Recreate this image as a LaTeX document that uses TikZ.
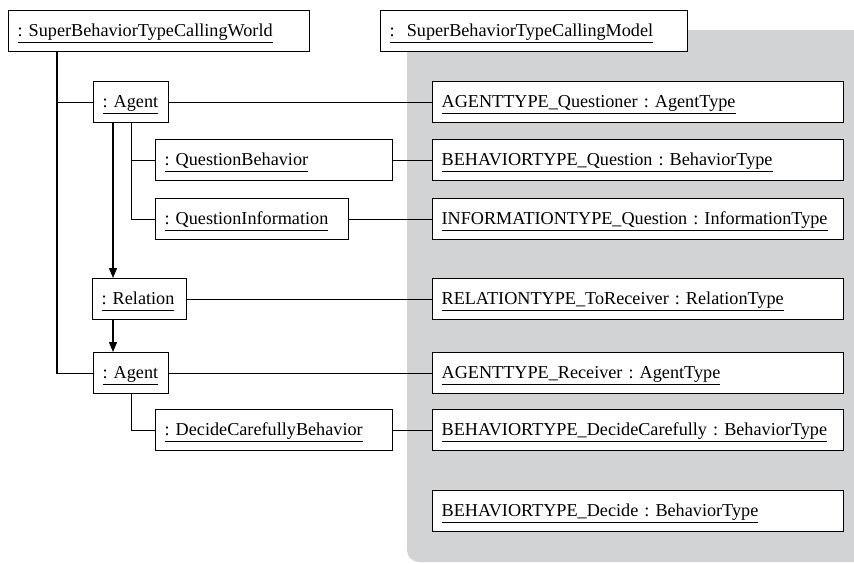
\documentclass[tikz,border=0pt]{standalone}
\usepackage{fontspec}
\setmainfont{Liberation Serif}
\usetikzlibrary{arrows.meta,positioning,calc}
\definecolor{modelgray}{HTML}{D2D3D5}
\newcommand{\objname}[1]{\underline{#1\vphantom{gy}}}
\frenchspacing

\begin{document}
\begin{tikzpicture}[x=0.5pt,y=-0.5pt,
    obj/.style={draw,fill=white,line width=0.6pt,anchor=north west,align=left,
      text width=#1,inner xsep=4.5pt,inner ysep=0pt,minimum height=20.5pt,
      text height=8.6pt,text depth=3.6pt,font=\fontsize{9.1}{11}\selectfont},
    link/.style={line width=0.6pt},
    flow/.style={line width=0.6pt,-{Triangle[length=5pt,width=4pt]}}]
    \useasboundingbox (0,0) rectangle (854,563);
    % model side panel
    \fill[modelgray] (854,30) -- (407,30) [rounded corners=6pt] -- (407,562) [sharp corners] -- (854,562) -- cycle;

    % world objects
    \node[obj=141.5pt] (world) at (8,10) {\objname{: SuperBehaviorTypeCallingWorld}};
    \node[obj=28.5pt] (agentA) at (93,81) {\objname{: Agent}};
    \node[obj=109.5pt] (qbehav) at (155,139) {\objname{: QuestionBehavior}};
    \node[obj=87.5pt] (qinfo) at (155,198) {\objname{: QuestionInformation}};
    \node[obj=38pt] (relation) at (92,278) {\objname{: Relation}};
    \node[obj=28.5pt] (agentB) at (93,352) {\objname{: Agent}};
    \node[obj=109.5pt] (dcbehav) at (155,409) {\objname{: DecideCarefullyBehavior}};

    % model objects
    \node[obj=144.5pt] (model) at (380,10) {\objname{:\ \ SuperBehaviorTypeCallingModel}};
    \node[obj=196.5pt] (questioner) at (432,81) {\objname{AGENTTYPE\_Questioner : AgentType}};
    \node[obj=196.5pt] (btquestion) at (432,139) {\objname{BEHAVIORTYPE\_Question : BehaviorType}};
    \node[obj=196.5pt] (itquestion) at (432,198) {\objname{INFORMATIONTYPE\_Question : InformationType}};
    \node[obj=196.5pt] (rtreceiver) at (432,278) {\objname{RELATIONTYPE\_ToReceiver : RelationType}};
    \node[obj=196.5pt] (receiver) at (432,352) {\objname{AGENTTYPE\_Receiver : AgentType}};
    \node[obj=196.5pt] (btcareful) at (432,409) {\objname{BEHAVIORTYPE\_DecideCarefully : BehaviorType}};
    \node[obj=196.5pt] (btdecide) at (432,490) {\objname{BEHAVIORTYPE\_Decide : BehaviorType}};

    % containment
    \draw[link] ([xshift=24.5pt]world.south west) |- (agentA.west);
    \draw[link] ([xshift=24.5pt]world.south west) |- (agentB.west);
    \draw[link] (agentA.south) |- (qbehav.west);
    \draw[link] (agentA.south) |- (qinfo.west);
    \draw[link] (agentB.south) |- (dcbehav.west);

    % relation direction
    \draw[flow] ([xshift=10pt]agentA.south west) -- ([xshift=10pt]agentA.south west |- relation.north);
    \draw[flow] ([xshift=10pt]agentA.south west |- relation.south) -- ([xshift=10pt]agentA.south west |- agentB.north);

    % instance of type
    \draw[link] (agentA) -- (questioner);
    \draw[link] (qbehav) -- (btquestion);
    \draw[link] (qinfo) -- (itquestion);
    \draw[link] (relation) -- (rtreceiver);
    \draw[link] (agentB) -- (receiver);
    \draw[link] (dcbehav) -- (btcareful);
\end{tikzpicture}
\end{document}
